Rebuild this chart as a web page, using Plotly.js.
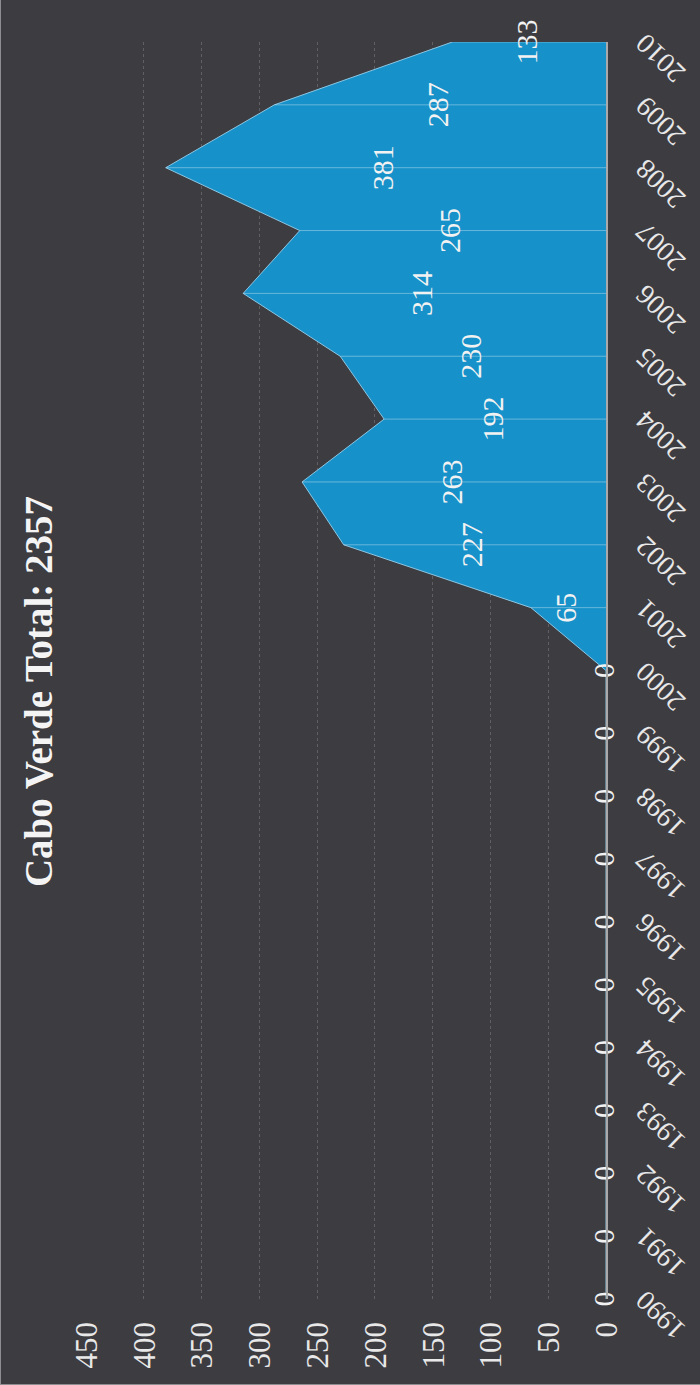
<!DOCTYPE html>
<html>
<head>
<meta charset="utf-8">
<script src="https://cdn.plot.ly/plotly-3.0.1.min.js"></script>
<style>
  html, body { margin: 0; padding: 0; background: #3d3c41; }
  #frame { position: relative; width: 700px; height: 1385px; overflow: hidden; }
  /* the chart is laid out landscape and turned a quarter turn counter-clockwise */
  #chart {
    position: absolute; left: 0; top: 0;
    width: 1385px; height: 700px;
    box-sizing: border-box; border: 1px solid #8e8e92;
    transform-origin: 0 0;
    transform: translateY(1385px) rotate(-90deg);
  }
</style>
</head>
<body>
<div id="frame"><div id="chart"></div></div>
<script>
// Yearly counts, Cabo Verde
const years = [1990, 1991, 1992, 1993, 1994, 1995, 1996, 1997, 1998, 1999, 2000,
               2001, 2002, 2003, 2004, 2005, 2006, 2007, 2008, 2009, 2010];
const counts = [0, 0, 0, 0, 0, 0, 0, 0, 0, 0, 0,
                65, 227, 263, 192, 230, 314, 265, 381, 287, 133];
const yTicks = [0, 50, 100, 150, 200, 250, 300, 350, 400, 450];
const chartTitle = 'Cabo Verde Total: ' + counts.reduce((a, b) => a + b, 0);

const serif = '"Liberation Serif", "DejaVu Serif", serif';

// vertical drop lines from the axis up to each point
const dropX = [], dropY = [];
years.forEach((yr, i) => { dropX.push(yr, yr, null); dropY.push(0, counts[i], null); });

const area = {
  x: years, y: counts, type: 'scatter', mode: 'lines',
  fill: 'tozeroy', fillcolor: '#1791c9',
  line: { color: '#8cc6e2', width: 1 },
  hoverinfo: 'skip'
};
const drops = {
  x: dropX, y: dropY, type: 'scatter', mode: 'lines',
  line: { color: 'rgba(255,255,255,0.35)', width: 1 },
  hoverinfo: 'skip'
};
const labels = {
  x: years, y: counts.map(v => v / 2), type: 'scatter', mode: 'text',
  text: counts.map(String), textposition: 'middle center', cliponaxis: false,
  textfont: { family: serif, size: 30, color: '#f2f2f2' },
  hoverinfo: 'skip'
};

const layout = {
  width: 1385, height: 700,
  paper_bgcolor: '#3d3c41', plot_bgcolor: '#3d3c41',
  margin: { l: 85, r: 43, t: 85, b: 95 },
  showlegend: false,
  title: {
    text: '<b>' + chartTitle + '</b>',
    font: { family: serif, size: 39, color: '#f4f4f4' },
    x: 0.5, xanchor: 'center', xref: 'container',
    y: 1 - 37 / 700, yanchor: 'middle', yref: 'container'
  },
  xaxis: {
    range: [1990, 2010], tickmode: 'array', tickvals: years, ticktext: years.map(String),
    tickangle: -46, showgrid: false, zeroline: false,
    showline: true, linecolor: '#aaaaaa', linewidth: 1.5,
    ticks: '', ticklabelstandoff: 10,
    tickfont: { family: serif, size: 28, color: '#e8e8e8' }
  },
  yaxis: {
    range: [0, 450], tickmode: 'array', tickvals: yTicks,
    showgrid: true, gridcolor: '#5f5f64', gridwidth: 1, griddash: 'dot',
    zeroline: false, showline: false, ticks: '', ticklabelstandoff: 22,
    tickfont: { family: serif, size: 31, color: '#e8e8e8' }
  }
};

Plotly.newPlot('chart', [area, drops, labels], layout, { staticPlot: true, displayModeBar: false });
</script>
</body>
</html>
